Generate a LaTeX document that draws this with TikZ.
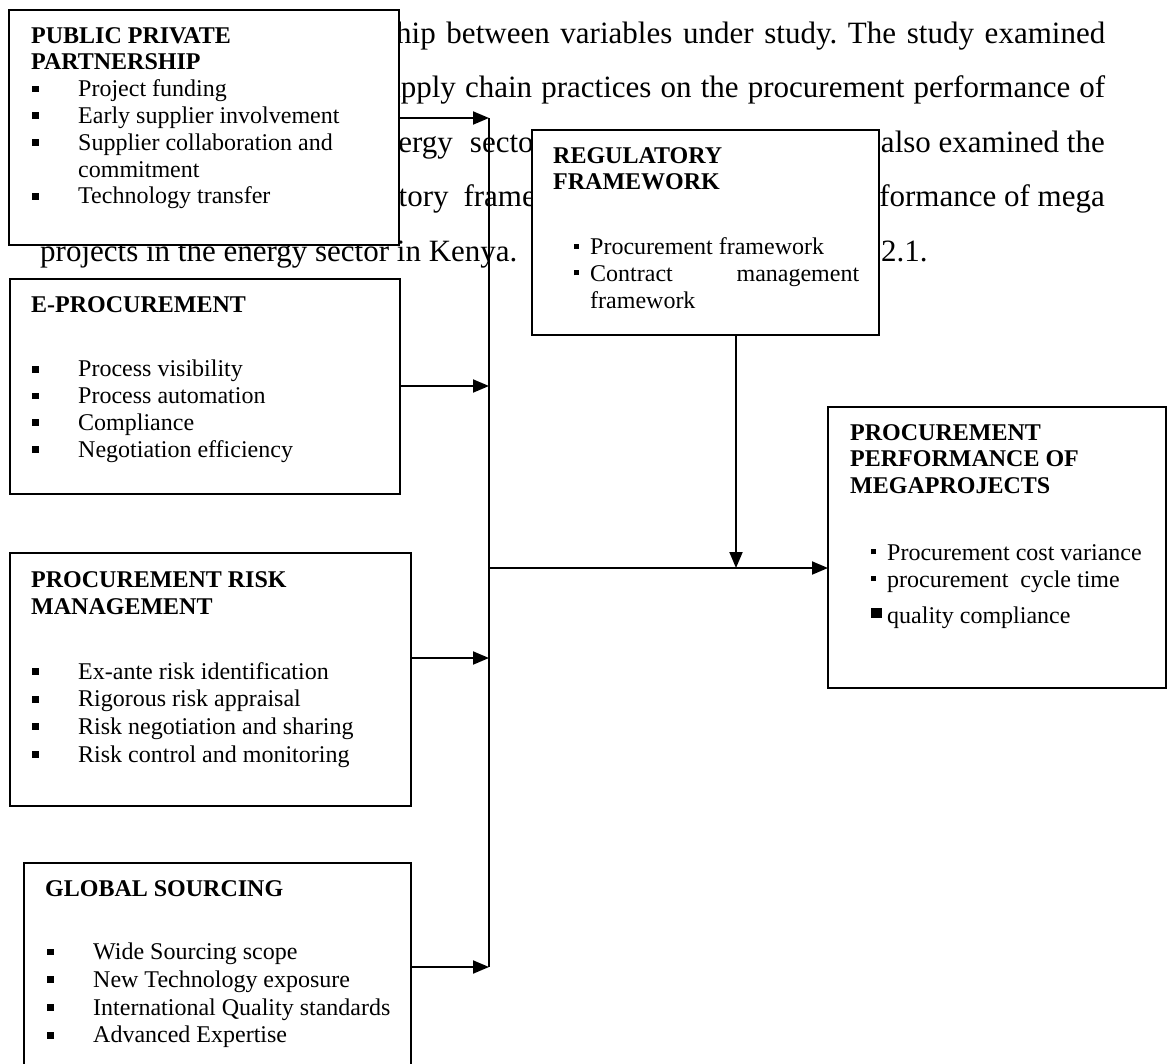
\documentclass[tikz,border=0pt]{standalone}
\usepackage{fontspec}
\setmainfont{Liberation Serif}
\usetikzlibrary{arrows.meta}

% bullet entries: square marker in a fixed-width slot, then the text
\newcommand\BulL[1]{\makebox[47pt][l]{\hspace*{1pt}\rule[4.3pt]{6.7pt}{6.7pt}}#1}
\newcommand\BulG[1]{\makebox[48pt][l]{\hspace*{2pt}\rule[4.3pt]{6.7pt}{6.7pt}}#1}
\newcommand\BulR[1]{\makebox[37pt][l]{\hspace*{21pt}\rule[6pt]{5pt}{5pt}}#1}

\begin{document}
\frenchspacing
\begin{tikzpicture}[x=1pt,y=-1pt,
  box/.style={draw, line width=1.8pt, fill=white, rectangle, inner sep=0pt, outer sep=0pt, anchor=north west},
  boxtext/.style={anchor=base west, inner sep=0pt, font=\fontsize{24}{26.8}\selectfont},
  para/.style={inner sep=0pt, font=\fontsize{31}{56}\selectfont},
  link/.style={line width=1.9pt, -{Triangle[length=16pt,width=13pt]}},
  trunk/.style={line width=1.6pt}]

\useasboundingbox (0,0) rectangle (1167,1063);
\clip (0,0) rectangle (1167,1063);

% running paragraph behind the figure
\node[para, anchor=base west] (p1) at (396,43) {\makebox[709pt][s]{hip between variables under study. The study examined}};
\node[para, anchor=base west] (p2) at (373,97.5) {\makebox[732pt][s]{supply chain practices on the procurement performance of}};
\begin{scope}
  % the words in the gap between the two upper boxes
  \clip (399,120) rectangle (532,230);
  \node[para, anchor=base west] (p3a) at (369,152) {energy\hspace{17pt}sector};
  \node[para, anchor=base west] (p4a) at (321,206.5) {regulatory\hspace{15pt}frame};
\end{scope}
\node[para, anchor=base east] (p3b) at (1105,152) {also examined the};
\node[para, anchor=base east] (p4b) at (1105,206.5) {performance of mega};
\node[para, anchor=base west] (p5a) at (40,261) {projects in the energy sector in Kenya.};
\node[para, anchor=base west] (p5b) at (881,261) {2.1.};

% boxes
\node[box, minimum width=390pt, minimum height=235pt] (ppp) at (9,10) {};
\node[box, minimum width=390pt, minimum height=215pt] (eproc) at (10,279) {};
\node[box, minimum width=401pt, minimum height=253pt] (risk) at (10,553) {};
\node[box, minimum width=387pt, minimum height=250pt] (gs) at (24,863) {};
\node[box, minimum width=347pt, minimum height=205pt] (reg) at (532,130) {};
\node[box, minimum width=338pt, minimum height=281pt] (perf) at (828,407) {};

% box contents
\node[boxtext] (ppptxt) at (31,43) {\begin{tabular}[t]{@{}l@{}}
\textbf{PUBLIC PRIVATE}\\
\textbf{PARTNERSHIP}\\
\BulL{Project funding}\\
\BulL{Early supplier involvement}\\
\BulL{Supplier collaboration and}\\
\hspace*{47pt}commitment\\
\BulL{Technology transfer}
\end{tabular}};

\node[boxtext] (eproctxt) at (31,312) {\begin{tabular}[t]{@{}l@{}}
\textbf{E-PROCUREMENT}\\[38pt]
\BulL{Process visibility}\\
\BulL{Process automation}\\
\BulL{Compliance}\\
\BulL{Negotiation efficiency}
\end{tabular}};

\node[boxtext, font=\fontsize{24}{27.6}\selectfont] (risktxt) at (31,587) {\begin{tabular}[t]{@{}l@{}}
\textbf{PROCUREMENT RISK}\\
\textbf{MANAGEMENT}\\[37pt]
\BulL{Ex-ante risk identification}\\
\BulL{Rigorous risk appraisal}\\
\BulL{Risk negotiation and sharing}\\
\BulL{Risk control and monitoring}
\end{tabular}};

\node[boxtext, font=\fontsize{24}{27.7}\selectfont] (gstxt) at (45,896) {\begin{tabular}[t]{@{}l@{}}
\textbf{GLOBAL SOURCING}\\[36pt]
\BulG{Wide Sourcing scope}\\
\BulG{New Technology exposure}\\
\BulG{International Quality standards}\\
\BulG{Advanced Expertise}
\end{tabular}};

\node[boxtext] (regtxt) at (553,163) {\begin{tabular}[t]{@{}l@{}}
\textbf{REGULATORY}\\
\textbf{FRAMEWORK}\\[38pt]
\BulR{Procurement framework}\\
\BulR{\makebox[269pt][s]{Contract management}}\\
\hspace*{37pt}framework
\end{tabular}};

\node[boxtext] (perftxt) at (850,440) {\begin{tabular}[t]{@{}l@{}}
\textbf{PROCUREMENT}\\
\textbf{PERFORMANCE OF}\\
\textbf{MEGAPROJECTS}\\[40pt]
\BulR{Procurement cost variance}\\
\BulR{procurement\ \ cycle time}\\[9pt]
\makebox[37pt][l]{\hspace*{21pt}\rule[5pt]{10.5pt}{10.5pt}}quality compliance
\end{tabular}};

% junction points on the collecting line
\coordinate (jA) at (489,118);
\coordinate (jB) at (489,386);
\coordinate (jM) at (489,568);
\coordinate (jC) at (489,658);
\coordinate (jD) at (489,967);
\coordinate (jR) at (736,568);

\draw[trunk] (jA) -- (jD);
\draw[link] (ppp.east |- jA) -- (jA);
\draw[link] (eproc.east |- jB) -- (jB);
\draw[link] (risk.east |- jC) -- (jC);
\draw[link] (gs.east |- jD) -- (jD);
\draw[link] (jM) -- (perf.west |- jM);
\draw[link] (reg.south -| jR) -- (jR);
\end{tikzpicture}
\end{document}
